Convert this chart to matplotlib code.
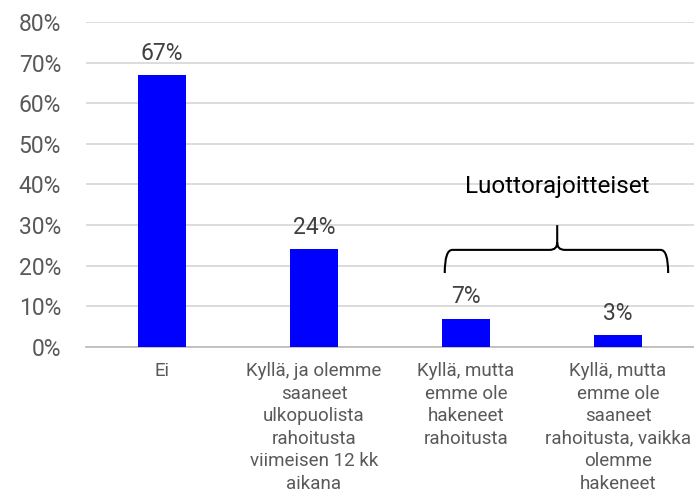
import matplotlib.pyplot as plt
from matplotlib.path import Path
from matplotlib.patches import PathPatch

plt.rcParams['font.family'] = ['Roboto', 'DejaVu Sans']

categories = [
    "Ei",
    "Kyllä, ja olemme\nsaaneet\nulkopuolista\nrahoitusta\nviimeisen 12 kk\naikana",
    "Kyllä, mutta\nemme ole\nhakeneet\nrahoitusta",
    "Kyllä, mutta\nemme ole\nsaaneet\nrahoitusta, vaikka\nolemme\nhakeneet",
]
values = [0.67, 0.24, 0.07, 0.03]
value_labels = ["67%", "24%", "7%", "3%"]
yticks = [0, 0.1, 0.2, 0.3, 0.4, 0.5, 0.6, 0.7, 0.8]
brace_label = "Luottorajoitteiset"

fig = plt.figure(figsize=(6.94, 4.94), dpi=100)
ax = fig.add_axes([0.124, 0.2976, 0.876, 0.658])

x = range(len(values))
ax.bar(x, values, width=0.32, color="#0000FF", zorder=3)
for xi, v, lab in zip(x, values, value_labels):
    ax.text(xi, v + 0.025, lab, ha="center", va="bottom", fontsize=16.5, color="#404040")

ax.set_xlim(-0.5, 3.5)
ax.set_ylim(0, 0.8)
ax.set_yticks(yticks)
ax.set_yticklabels(["{:.0f}%".format(t * 100) for t in yticks])
ax.set_xticks(list(x))
ax.set_xticklabels(categories, fontsize=13.5, color="#595959", linespacing=1.32)
ax.tick_params(axis="y", labelsize=16.5, colors="#595959", length=0, pad=18)
ax.tick_params(axis="x", length=0, pad=11)
ax.grid(axis="y", color="#d9d9d9", linewidth=1.3, zorder=0)
for s in ["top", "right", "left"]:
    ax.spines[s].set_visible(False)
ax.spines["bottom"].set_color("#bfbfbf")
ax.spines["bottom"].set_linewidth(1.3)

# brace over the credit-constrained groups
x0, x1, xm = 1.86, 3.33, 2.6
y0, y1, y2 = 0.182, 0.239, 0.30
r = 0.05
ry = 0.018
verts = [
    (x0, y0), (x0, y1), (x0 + r, y1),
    (xm - r, y1), (xm, y1), (xm, y1 + ry), (xm, y2),
    (xm, y1 + ry), (xm, y1), (xm + r, y1),
    (x1 - r, y1), (x1, y1), (x1, y0),
]
codes = [
    Path.MOVETO, Path.CURVE3, Path.CURVE3,
    Path.LINETO, Path.CURVE3, Path.CURVE3, Path.LINETO,
    Path.MOVETO, Path.CURVE3, Path.CURVE3,
    Path.LINETO, Path.CURVE3, Path.CURVE3,
]
ax.add_patch(PathPatch(Path(verts, codes), fill=False, edgecolor="black", linewidth=1.5, zorder=4))
ax.text(xm, 0.394, brace_label, ha="center", va="center", fontsize=17.5, color="black", zorder=4)

fig.savefig("out.png", dpi=100)
